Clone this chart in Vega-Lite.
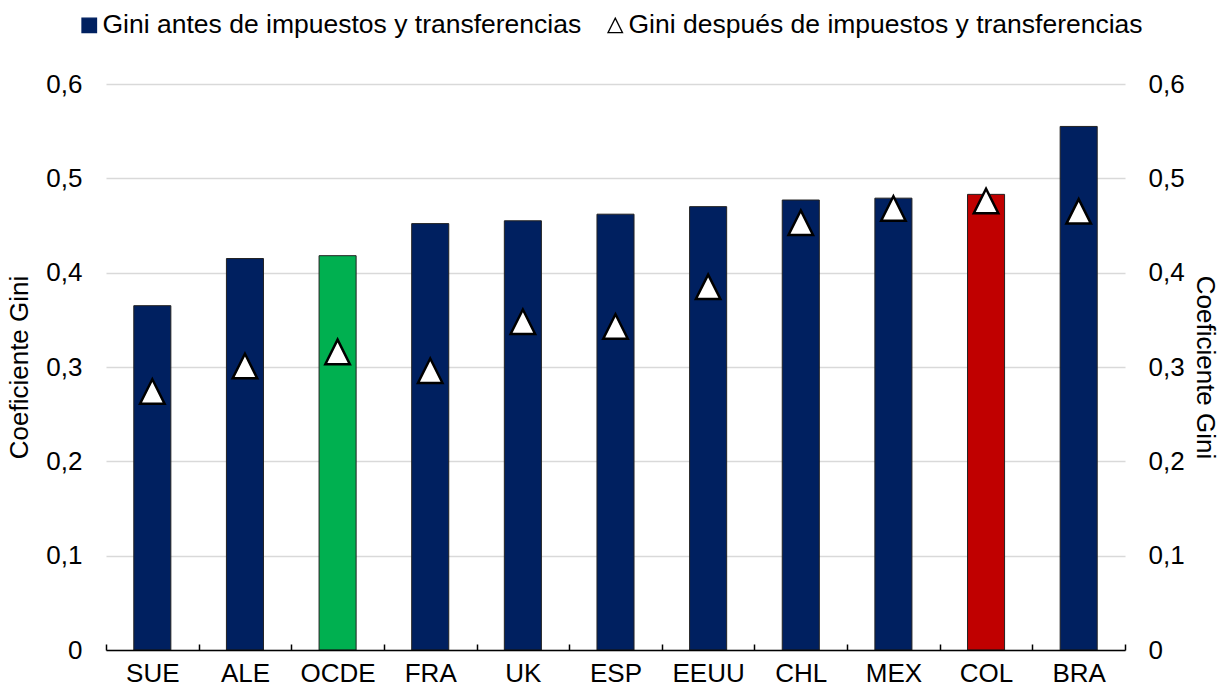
{
  "$schema": "https://vega.github.io/schema/vega-lite/v6.json",
  "width": 1019,
  "height": 566,
  "autosize": {"type": "none"},
  "padding": {"left": 106, "top": 84, "right": 99, "bottom": 38},
  "background": "white",
  "config": {
    "font": "Liberation Sans",
    "view": {"stroke": null},
    "axis": {
      "labelFont": "Liberation Sans",
      "titleFont": "Liberation Sans",
      "labelFontSize": 26,
      "titleFontSize": 26,
      "labelColor": "black",
      "titleColor": "black",
      "titleFontWeight": "normal"
    },
    "legend": {
      "orient": "none",
      "direction": "horizontal",
      "legendX": -30,
      "legendY": -72,
      "labelFont": "Liberation Sans",
      "labelFontSize": 26.5,
      "labelColor": "black",
      "labelLimit": 0,
      "labelOffset": 0,
      "columnPadding": 20,
      "symbolSize": 210,
      "symbolStrokeWidth": 1.3,
      "symbolOpacity": 1,
      "padding": 0
    }
  },
  "datasets": {
    "gini": [
      {"pais": "SUE", "antes": 0.365, "despues": 0.274, "grupo": "País"},
      {"pais": "ALE", "antes": 0.415, "despues": 0.301, "grupo": "País"},
      {"pais": "OCDE", "antes": 0.418, "despues": 0.316, "grupo": "OCDE"},
      {"pais": "FRA", "antes": 0.452, "despues": 0.296, "grupo": "País"},
      {"pais": "UK", "antes": 0.455, "despues": 0.348, "grupo": "País"},
      {"pais": "ESP", "antes": 0.462, "despues": 0.343, "grupo": "País"},
      {"pais": "EEUU", "antes": 0.470, "despues": 0.385, "grupo": "País"},
      {"pais": "CHL", "antes": 0.477, "despues": 0.453, "grupo": "País"},
      {"pais": "MEX", "antes": 0.479, "despues": 0.468, "grupo": "País"},
      {"pais": "COL", "antes": 0.483, "despues": 0.476, "grupo": "Colombia"},
      {"pais": "BRA", "antes": 0.555, "despues": 0.465, "grupo": "País"}
    ],
    "series": [
      {"serie": "Gini antes de impuestos y transferencias"},
      {"serie": "Gini después de impuestos y transferencias"}
    ]
  },
  "layer": [
    {
      "data": {"name": "gini"},
      "mark": {"type": "bar", "width": {"band": 0.4}, "stroke": "#222222", "strokeWidth": 1},
      "encoding": {
        "x": {
          "field": "pais",
          "type": "nominal",
          "sort": null,
          "scale": {"paddingInner": 0, "paddingOuter": 0},
          "axis": {
            "title": null,
            "labelAngle": 0,
            "domainColor": "black",
            "domainWidth": 1.5,
            "tickColor": "black",
            "tickWidth": 1.5,
            "tickSize": -6,
            "tickBand": "extent",
            "labelPadding": 16,
            "zindex": 1
          }
        },
        "y": {
          "field": "antes",
          "type": "quantitative",
          "scale": {"domain": [0, 0.6], "nice": false},
          "axis": {
            "orient": "left",
            "title": "Coeficiente Gini",
            "values": [0, 0.1, 0.2, 0.3, 0.4, 0.5, 0.6],
            "labelExpr": "replace(format(datum.value, '.1~f'), '.', ',')",
            "domain": false,
            "ticks": false,
            "labelPadding": 24,
            "titlePadding": 13,
            "grid": true,
            "gridColor": "#D9D9D9",
            "gridWidth": 1.5
          }
        },
        "color": {
          "field": "grupo",
          "type": "nominal",
          "scale": {"domain": ["País", "OCDE", "Colombia"], "range": ["#002060", "#00B050", "#C00000"]},
          "legend": null
        }
      }
    },
    {
      "data": {"name": "gini"},
      "mark": {
        "type": "point",
        "shape": "M0,-1L1,1L-1,1Z",
        "filled": true,
        "fill": "white",
        "stroke": "black",
        "strokeWidth": 2.5,
        "size": 600,
        "opacity": 1
      },
      "encoding": {
        "x": {"field": "pais", "type": "nominal", "sort": null},
        "y": {
          "field": "despues",
          "type": "quantitative",
          "scale": {"domain": [0, 0.6], "nice": false},
          "axis": {
            "orient": "right",
            "title": "Coeficiente Gini",
            "values": [0, 0.1, 0.2, 0.3, 0.4, 0.5, 0.6],
            "labelExpr": "replace(format(datum.value, '.1~f'), '.', ',')",
            "domain": false,
            "ticks": false,
            "labelPadding": 23,
            "titlePadding": 7,
            "grid": false
          }
        }
      }
    },
    {
      "data": {"name": "series"},
      "mark": {"type": "point", "filled": true, "opacity": 0},
      "encoding": {
        "fill": {
          "field": "serie",
          "type": "nominal",
          "scale": {"domain": ["Gini antes de impuestos y transferencias", "Gini después de impuestos y transferencias"], "range": ["#002060", "#FFFFFF"]},
          "legend": {"title": null}
        },
        "stroke": {
          "field": "serie",
          "type": "nominal",
          "scale": {"domain": ["Gini antes de impuestos y transferencias", "Gini después de impuestos y transferencias"], "range": ["#002060", "#000000"]},
          "legend": {"title": null}
        },
        "shape": {
          "field": "serie",
          "type": "nominal",
          "scale": {"domain": ["Gini antes de impuestos y transferencias", "Gini después de impuestos y transferencias"], "range": ["square", "M0,-1L1,1L-1,1Z"]},
          "legend": {"title": null}
        }
      }
    }
  ],
  "resolve": {"scale": {"y": "independent"}}
}
